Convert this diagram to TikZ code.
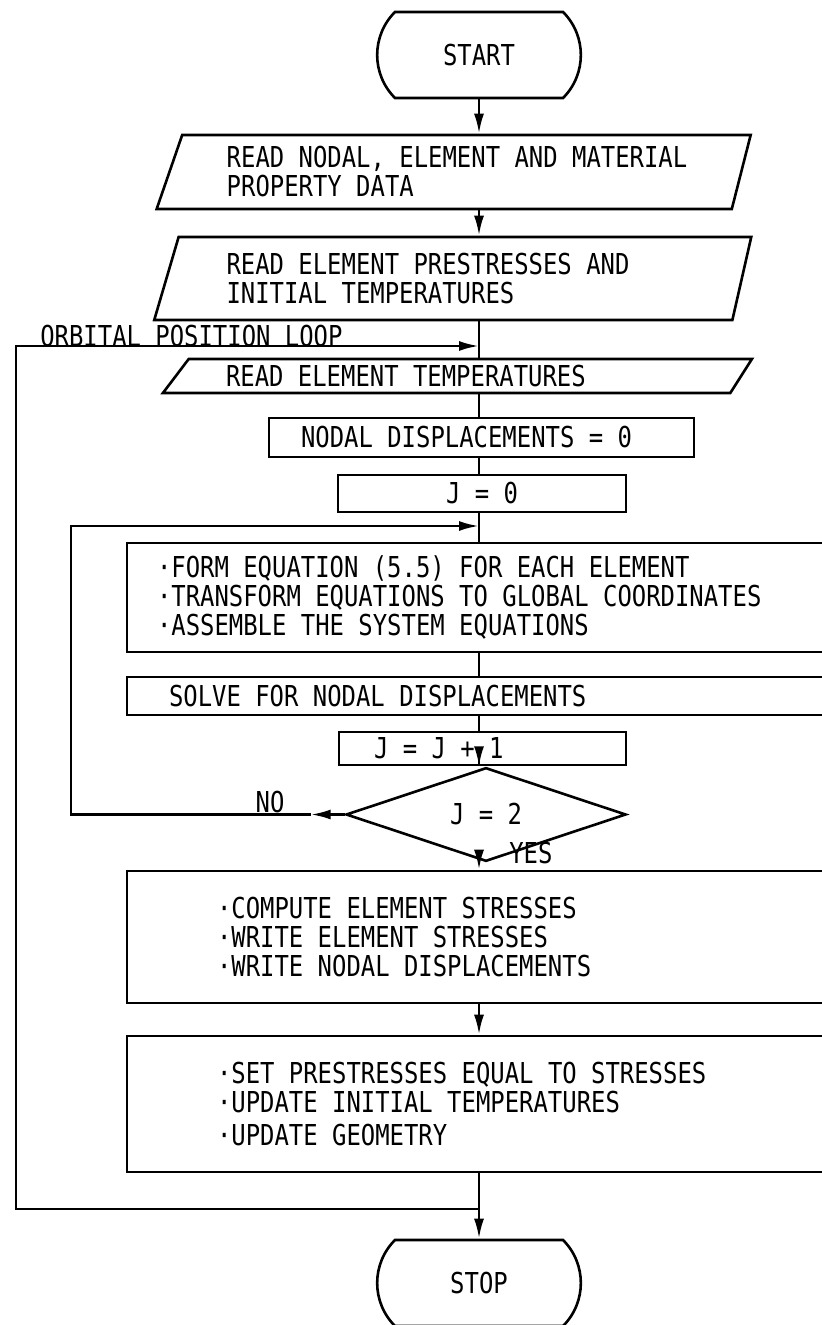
\documentclass[tikz,border=0pt]{standalone}
\usepackage{fontspec}
\setmainfont{DejaVu Sans Mono}[FakeStretch=0.83, WordSpace={1,0,0}]
\usetikzlibrary{arrows.meta,shapes.geometric,shapes.misc,positioning}
\newcommand\flowfont{\fontsize{14.4}{14.5}\selectfont}

\begin{document}
\begin{tikzpicture}[
  x=0.5pt, y=-0.5pt,
  font=\flowfont,
  execute at begin node=\spaceskip 7.2pt\relax,
  line width=1.3pt,
  term/.style={draw, rounded rectangle, rounded rectangle arc length=90, minimum width=108.5pt, minimum height=43pt},
  io/.style={draw, trapezium, trapezium stretches body=true, align=left, inner ysep=1pt},
  proc/.style={draw, rectangle, inner ysep=1pt},
  wide/.style={proc, minimum width=396.5pt, align=left},
  test/.style={draw, diamond, minimum width=140pt, minimum height=28.5pt, inner sep=0pt},
  arr/.style={-{Latex[length=10pt,width=5pt]}},
  lab/.style={inner sep=1pt}
]
\useasboundingbox (0,0) rectangle (821,1325);

% ---- Terminals and input ----
\node[term] (start) at (479,55) {START};
\node[io, trapezium left angle=65, trapezium right angle=109, minimum width=297pt, minimum height=37pt] (rdata) at (457,172)
  {READ NODAL, ELEMENT AND MATERIAL\\PROPERTY DATA};
\node[io, trapezium left angle=66, trapezium right angle=109, minimum width=298.5pt, minimum height=41.5pt, text width=229pt] (rpre) at (455.5,278.5)
  {READ ELEMENT PRESTRESSES AND\\INITIAL TEMPERATURES};
\node[io, trapezium left angle=45, trapezium right angle=130, minimum width=294.5pt, minimum height=17pt, text width=233.5pt] (rtemp) at (459.5,376)
  {READ ELEMENT TEMPERATURES};

% ---- Iteration boxes ----
\node[proc, minimum width=212.5pt, minimum height=19.5pt, inner xsep=16pt, text width=180.5pt, align=left] (zero) at (481.5,437.5) {NODAL DISPLACEMENTS = 0};
\node[proc, minimum width=144pt, minimum height=18.5pt] (jzero) at (482,493.5) {J = 0};
\node[wide, minimum height=54.5pt, inner xsep=15pt, text width=366.5pt] (form) at (523.5,597.5)
  {·FORM EQUATION (5.5) FOR EACH ELEMENT\\
   ·TRANSFORM EQUATIONS TO GLOBAL COORDINATES\\
   ·ASSEMBLE THE SYSTEM EQUATIONS};
\node[wide, minimum height=19pt, inner xsep=21pt, text width=354.5pt] (solve) at (523.5,696) {SOLVE FOR NODAL DISPLACEMENTS};
\node[proc, minimum width=143.5pt, minimum height=16.5pt, inner xsep=17.5pt, text width=108.5pt, align=left] (jinc) at (482.5,748.5) {J = J + 1};
\node[test] (jtest) at (486,814.5) {J = 2};

% ---- Output and update ----
\node[wide, minimum height=66pt, inner xsep=45pt, text width=306.5pt] (stress) at (523.5,937)
  {·COMPUTE ELEMENT STRESSES\\
   ·WRITE ELEMENT STRESSES\\
   ·WRITE NODAL DISPLACEMENTS};
\node[wide, minimum height=68pt, inner xsep=45pt, text width=306.5pt] (update) at (523.5,1104)
  {·SET PRESTRESSES EQUAL TO STRESSES\\
   ·UPDATE INITIAL TEMPERATURES\\[2pt]
   ·UPDATE GEOMETRY};
\node[term] (stop) at (479,1283) {STOP};

% ---- Main flow ----
\draw[arr] (start.south) -- (start.south |- rdata.north);
\draw[arr] (start |- rdata.south) -- (start |- rpre.north);
\draw (start |- rpre.south) -- (start |- rtemp.north);
\draw (start |- rtemp.south) -- (start |- zero.north);
\draw (start |- zero.south) -- (start |- jzero.north);
\draw (start |- jzero.south) -- (start |- form.north);
\draw (start |- form.south) -- (start |- solve.north);
\draw (start |- solve.south) -- (start |- jinc.north);
\draw[arr] (start |- jinc.south) -- (start |- jtest.north);
\draw[arr] (start |- jtest.south) -- (start |- stress.north);
\node[lab, anchor=west] (yeslab) at (506,853) {YES};
\draw[arr] (start |- stress.south) -- (start |- update.north);
\draw[arr] (start |- update.south) -- (stop.north);

% ---- Orbital position loop ----
\coordinate (orbout) at (479,1209);
\coordinate (orbin) at (479,346);
\coordinate (orbleft) at (16,0);
\draw[arr] (orbout) -- (orbout -| orbleft) -- (orbin -| orbleft) -- (orbin);
\node[lab, anchor=base west] (orblab) at (37,347) {ORBITAL POSITION LOOP};

% ---- J loop ----
\coordinate (jin) at (479,526);
\coordinate (jleft) at (71,0);
\draw[arr] (jtest.west) -- ([xshift=-17pt]jtest.west) coordinate (noarr);
\draw[arr] (noarr) -- (noarr -| jleft) -- (jin -| jleft) -- (jin);
\node[lab, anchor=base] (nolab) at (270,812) {NO};

\end{tikzpicture}
\end{document}
